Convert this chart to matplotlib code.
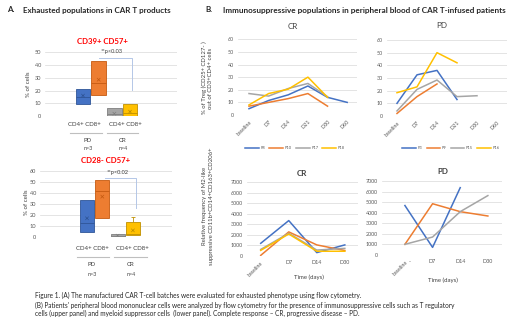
import matplotlib
matplotlib.use('Agg')
import matplotlib.pyplot as plt
import numpy as np

plt.rcParams['font.family'] = ['Lato', 'DejaVu Sans']

# ---- Panel A data (box charts) ----
groups = ['CD4+', 'CD8+', 'CD4+', 'CD8+']
box_colors = ['#4472C4', '#ED7D31', '#A5A5A5', '#FFC000']
box_edges = ['#2F5597', '#C55A11', '#7F7F7F', '#BF9000']

cd39_q1 = [9.7, 16.8, 0.0, 0.3]
cd39_q3 = [21.2, 43.0, 6.0, 9.2]
cd39_med = [15.0, 25.7, 1.5, 2.0]
cd39_mean = [16.0, 28.5, 1.8, 3.4]

cd28_q1 = [4.8, 17.0, 0.0, 1.8]
cd28_q3 = [33.6, 51.8, 2.4, 13.3]
cd28_med = [12.4, 41.8, 1.2, 2.4]
cd28_mean = [17.0, 36.7, 1.2, 6.0]
cd28_whisk = [33.6, 51.8, 2.4, 17.9]

# ---- Panel B data (Treg, top) ----
treg_days = ['baseline', 'D7', 'D14', 'D21', 'D30', 'D60']
cr_names = ['P8', 'P10', 'P17', 'P18']
pd_names = ['P3', 'P9', 'P15', 'P16']
line_colors = ['#4472C4', '#ED7D31', '#A5A5A5', '#FFC000']

treg_cr = [
    [5, 11.5, 16, 23, 14, 10],
    [7, 10, 13, 17, 7, np.nan],
    [17, 15, 21, 25, 14.5, np.nan],
    [8, 17, 20.5, 30, 14, np.nan],
]
treg_pd = [
    [10, 32.5, 36, 13, np.nan, np.nan],
    [2, 15.3, 25.3, np.nan, np.nan, np.nan],
    [4, 21, 28.4, 15.3, 16, np.nan],
    [18.4, 23, 50, 42, np.nan, np.nan],
]

# ---- Panel B data (M2-like, bottom) ----
m2_days = ['baseline', 'D7', 'D14', 'D30']
m2_cr = [
    [1200, 3350, 320, 1050],
    [60, 2280, 1050, 520],
    [620, 2150, 560, 720],
    [530, 2080, 450, 450],
]
m2_pd = [
    [4680, 720, 6370, np.nan],
    [1010, 4850, 4100, 3690],
    [1010, 1700, 4100, 5620],
    [np.nan, np.nan, np.nan, np.nan],
]

W, H = 520, 325
fig = plt.figure(figsize=(W / 100, H / 100), dpi=100)


def rect(l, t, r, b):
    return [l / W, 1 - b / H, (r - l) / W, (b - t) / H]


def T(x, y, s, **kw):
    kw.setdefault('ha', 'center')
    kw.setdefault('va', 'center')
    fig.text(x / W, 1 - y / H, s, **kw)


def HL(x0, x1, y, color='#BFBFBF', lw=0.8):
    fig.add_artist(plt.Line2D([x0 / W, x1 / W], [1 - y / H, 1 - y / H],
                              color=color, lw=lw))


grid_c = '#D9D9D9'
tick_c = '#595959'
txt_c = '#404040'

# headers
T(7, 10, 'A.', ha='left', fontsize=5.8, fontweight='bold', color='#262626')
T(23, 10, 'Exhausted populations in CAR T products', ha='left',
  fontsize=5.8, fontweight='bold', color='#262626')
T(205, 10, 'B.', ha='left', fontsize=5.8, fontweight='bold', color='#262626')
T(223, 10, 'Immunosuppressive populations in peripheral blood of CAR T-infused patients',
  ha='left', fontsize=5.9, fontweight='bold', color='#262626')


def box_chart(pos_rect, x0px, step, q1, q3, med, mean, whisk, ymax, ystep,
              bracket):
    l, t, r, b = pos_rect
    ax = fig.add_axes(rect(l, t, r, b))
    x = np.arange(4)
    ax.bar(x, np.array(q3) - np.array(q1), bottom=q1, width=0.92,
           color=box_colors, edgecolor=box_edges, linewidth=0.6, zorder=3)
    for i in range(4):
        ax.hlines(med[i], i - 0.46, i + 0.46, color=box_edges[i], lw=0.6, zorder=4)
        if whisk[i] > q3[i]:
            ax.vlines(i, q3[i], whisk[i], color=box_edges[i], lw=0.6, zorder=2)
            ax.hlines(whisk[i], i - 0.15, i + 0.15, color=box_edges[i], lw=0.6)
    ax.scatter(x, mean, marker='x', s=6, color=box_edges, lw=0.5, zorder=5)
    bx0, bx1, by0, by1 = bracket
    ax.plot([bx0, bx1, bx1], [by0, by0, by1], color='#B4C7E7', lw=0.7, zorder=2)
    ax.set_xlim((l - x0px) / step, (r - x0px) / step)
    ax.set_ylim(0, ymax)
    ax.set_yticks(np.arange(0, ymax + 1, ystep))
    ax.tick_params(axis='y', labelsize=4.1, colors=tick_c, length=0, pad=3)
    ax.set_xticks([])
    ax.grid(axis='y', color=grid_c, lw=0.5)
    ax.set_axisbelow(True)
    for s in ax.spines.values():
        s.set_visible(False)
    return ax


# chart A1
box_chart((45, 52.3, 177, 116), 83, 15.67, cd39_q1, cd39_q3, cd39_med, cd39_mean,
          cd39_q3, 50, 10, (1.02, 3.1, 45.3, 20.4))
T(102, 42, 'CD39+ CD57+', fontsize=5.6, fontweight='bold', color='#FF0000')
T(111.7, 52, '**p<0.03', fontsize=4.1, color=txt_c)
T(29, 84, '% of cells', rotation=90, fontsize=4.4, color=txt_c)
T(84.5, 125, 'CD4+ CD8+', fontsize=4.4, color=txt_c)
T(125, 125, 'CD4+ CD8+', fontsize=4.4, color=txt_c)
HL(70, 102, 133)
HL(107, 138, 133)
T(88, 140.5, 'PD', fontsize=4.4, color=txt_c)
T(123, 140.5, 'CR', fontsize=4.4, color=txt_c)
T(88, 148, 'n=3', fontsize=3.9, color=txt_c)
T(123, 148, 'n=4', fontsize=3.9, color=txt_c)

# chart A2
box_chart((40, 171, 172, 237), 87, 15.3, cd28_q1, cd28_q3, cd28_med, cd28_mean,
          cd28_whisk, 60, 10, (1.18, 3.2, 54, 26.7))
T(106, 160.5, 'CD28- CD57+', fontsize=5.6, fontweight='bold', color='#FF0000')
T(118, 172, '**p<0.02', fontsize=4.1, color=txt_c)
T(27, 202, '% of cells', rotation=90, fontsize=4.4, color=txt_c)
T(92, 248, 'CD4+ CD8+', fontsize=4.4, color=txt_c)
T(132.5, 248, 'CD4+ CD8+', fontsize=4.4, color=txt_c)
HL(77, 109, 257)
HL(114, 147, 257)
T(92, 264.5, 'PD', fontsize=4.4, color=txt_c)
T(131, 264.5, 'CR', fontsize=4.4, color=txt_c)
T(92, 275, 'n=3', fontsize=3.9, color=txt_c)
T(131, 275, 'n=4', fontsize=3.9, color=txt_c)


def line_chart(pos_rect, cats, series, names, xlim, ymax, ystep, rot_all):
    ax = fig.add_axes(rect(*pos_rect))
    x = np.arange(len(cats))
    for vals, c, n in zip(series, line_colors, names):
        ax.plot(x, vals, color=c, lw=1.1, label=n, zorder=3)
    ax.set_xlim(*xlim)
    ax.set_ylim(0, ymax)
    ax.set_yticks(np.arange(0, ymax + 1, ystep))
    ax.set_xticks(x)
    ax.set_xticklabels(cats)
    ax.tick_params(axis='both', labelsize=3.9, colors=tick_c, length=0, pad=3)
    labs = ax.get_xticklabels() if rot_all else ax.get_xticklabels()[:1]
    for lab in labs:
        lab.set_rotation(45)
        lab.set_ha('right')
        lab.set_rotation_mode('anchor')
    ax.grid(axis='y', color=grid_c, lw=0.5)
    ax.set_axisbelow(True)
    for s in ax.spines.values():
        s.set_visible(False)
    return ax


# top: Treg
ax_cr = line_chart((238, 39.3, 357, 115), treg_days, treg_cr, cr_names,
                   (-0.56, 5.5), 60, 10, True)
ax_pd = line_chart((387, 40, 507, 116), treg_days, treg_pd, pd_names,
                   (-0.5, 5.5), 60, 10, True)
T(293, 26.5, 'CR', fontsize=5.8, color=txt_c)
T(442, 26, 'PD', fontsize=5.8, color=txt_c)
for ax, cx in ((ax_cr, 295), (ax_pd, 451)):
    ax.legend(loc='center', bbox_to_anchor=(cx / W, 1 - 148 / H),
              bbox_transform=fig.transFigure, ncol=4, fontsize=2.9,
              frameon=False, handlelength=3.4, columnspacing=1.0,
              handletextpad=0.4, labelcolor=tick_c)
T(207.5, 78, '% of Treg (CD25+ CD127- )\nout of CD3+CD4+ cells', rotation=90,
  fontsize=4.3, color=txt_c, linespacing=1.3)

# bottom: M2-like
line_chart((246.7, 182, 358, 256), m2_days, m2_cr, cr_names,
           (-0.5, 3.47), 7000, 1000, False)
line_chart((381.7, 181, 501.7, 255), m2_days, m2_pd, pd_names,
           (-0.84, 3.5), 7000, 1000, False)
T(302, 173.3, 'CR', fontsize=5.8, fontweight='bold', color=txt_c)
T(443, 171.7, 'PD', fontsize=5.8, fontweight='bold', color=txt_c)
T(410, 262, '-', fontsize=3.9, color=tick_c)
T(309, 277, 'Time (days)', fontsize=4.3, color=txt_c)
T(443, 280, 'Time (days)', fontsize=4.3, color=txt_c)
T(208, 206, 'Relative frequency of M2-like\nsuppressive CD11b+CD14+CD163+CD206+',
  rotation=90, fontsize=4.3, color=txt_c, linespacing=1.3)

# caption
cap = ['Figure 1. (A) The manufactured CAR T-cell batches were evaluated for exhausted phenotype using flow cytometry.',
       "(B) Patients' peripheral blood mononuclear cells were analyzed by flow cytometry for the presence of immunosuppressive cells such as T regulatory",
       'cells (upper panel) and myeloid suppressor cells  (lower panel). Complete response \u2013 CR, progressive disease \u2013 PD.']
for yy, s in zip((295.7, 305, 313.5), cap):
    T(35, yy, s, ha='left', fontsize=4.7, color='#262626')

fig.savefig('out.png', dpi=100)
